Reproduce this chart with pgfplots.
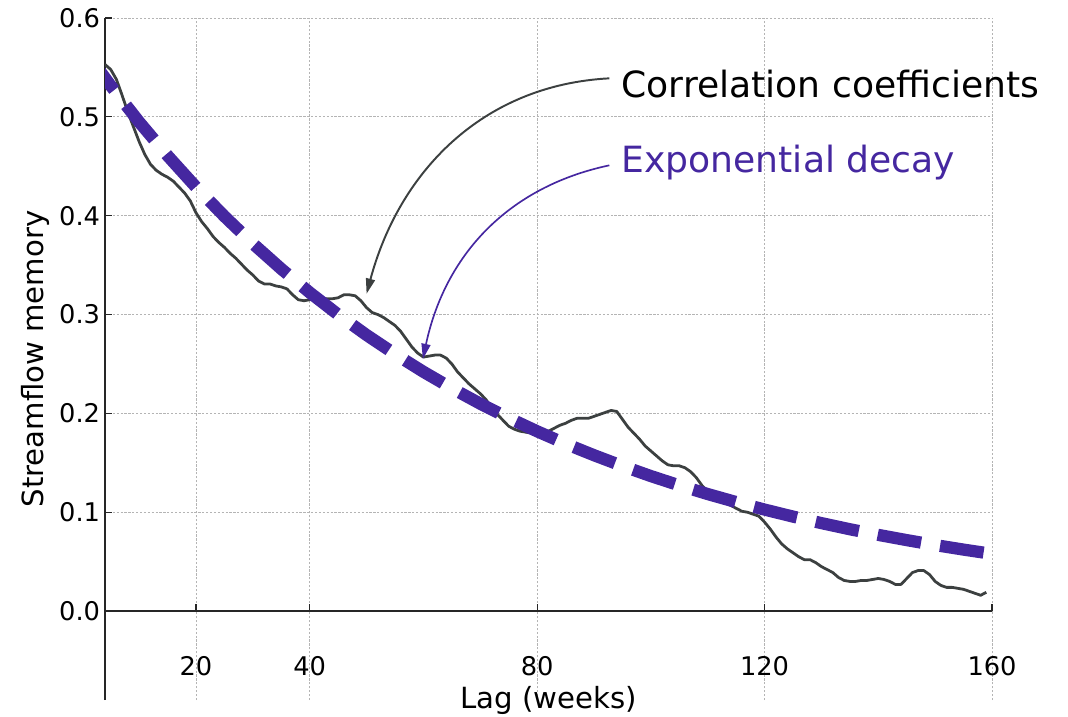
\documentclass[border=0pt]{standalone}
\usepackage{fontspec}
\setmainfont{DejaVu Sans}
\usepackage{pgfplots}
\usepackage{pgfplotstable}
\pgfplotsset{compat=1.18}
\usetikzlibrary{arrows.meta}
\definecolor{decay}{RGB}{69,39,160}
\definecolor{corr}{RGB}{60,64,64}
\definecolor{gridc}{RGB}{180,180,180}

\pgfplotstableread{
x y
4 0.553
5 0.548
6 0.538
7 0.522
8 0.505
9 0.490
10 0.475
11 0.462
12 0.452
13 0.446
14 0.442
15 0.439
16 0.435
17 0.429
18 0.423
19 0.415
20 0.403
21 0.394
22 0.387
23 0.379
24 0.373
25 0.368
26 0.362
27 0.357
28 0.351
29 0.345
30 0.340
31 0.334
32 0.331
33 0.331
34 0.329
35 0.328
36 0.326
37 0.320
38 0.315
39 0.314
40 0.315
41 0.317
42 0.317
43 0.316
44 0.316
45 0.317
46 0.320
47 0.320
48 0.319
49 0.314
50 0.307
51 0.302
52 0.300
53 0.297
54 0.293
55 0.289
56 0.283
57 0.275
58 0.267
59 0.261
60 0.257
61 0.258
62 0.259
63 0.259
64 0.256
65 0.250
66 0.242
67 0.236
68 0.230
69 0.225
70 0.220
71 0.214
72 0.206
73 0.199
74 0.193
75 0.187
76 0.184
77 0.182
78 0.181
79 0.180
80 0.180
81 0.181
82 0.182
83 0.185
84 0.188
85 0.190
86 0.193
87 0.195
88 0.195
89 0.195
90 0.197
91 0.199
92 0.201
93 0.203
94 0.202
95 0.194
96 0.186
97 0.180
98 0.174
99 0.167
100 0.162
101 0.157
102 0.152
103 0.148
104 0.147
105 0.147
106 0.145
107 0.141
108 0.135
109 0.127
110 0.121
111 0.118
112 0.114
113 0.110
114 0.107
115 0.104
116 0.101
117 0.100
118 0.098
119 0.096
120 0.090
121 0.083
122 0.075
123 0.068
124 0.063
125 0.059
126 0.055
127 0.052
128 0.052
129 0.049
130 0.045
131 0.042
132 0.039
133 0.034
134 0.031
135 0.030
136 0.030
137 0.031
138 0.031
139 0.032
140 0.033
141 0.032
142 0.030
143 0.027
144 0.027
145 0.033
146 0.039
147 0.041
148 0.041
149 0.037
150 0.030
151 0.026
152 0.024
153 0.024
154 0.023
155 0.022
156 0.020
157 0.018
158 0.016
159 0.019
}\corrdata

\pgfplotstableread{
x y
1 0.5629
5 0.5316
10 0.4949
15 0.4608
20 0.4290
25 0.3994
30 0.3718
35 0.3462
40 0.3223
45 0.3000
50 0.2793
55 0.2601
60 0.2421
65 0.2254
70 0.2098
75 0.1954
80 0.1819
85 0.1693
90 0.1577
95 0.1468
100 0.1366
105 0.1272
110 0.1184
115 0.1103
120 0.1027
125 0.0956
130 0.0890
135 0.0828
140 0.0771
145 0.0718
150 0.0668
155 0.0622
160 0.0579
}\decaydata

\begin{document}
\begin{tikzpicture}
\begin{axis}[name=ax,
  width=638.6pt, height=491pt, scale only axis,
  xmin=4, xmax=160, ymin=-0.09, ymax=0.6,
  axis x line*=middle, axis y line*=left,
  hide obscured x ticks=false, hide obscured y ticks=false,
  xtick={20,40,80,120,160}, xticklabels={20,40,80,120,160},
  ytick={0,0.1,0.2,0.3,0.4,0.5,0.6},
  yticklabels={0.0,0.1,0.2,0.3,0.4,0.5,0.6},
  tick align=inside, major tick length=5pt,
  tick style={color=black!85, line width=0.8pt},
  axis line style={color=black!85, line width=1pt},
  grid=major,
  major grid style={gridc, line width=0.6pt, dash pattern=on 1.6pt off 1.2pt},
  tick label style={font=\fontsize{18.5}{22}\selectfont},
  xticklabel style={anchor=center, yshift=-39.6pt},
  xlabel={Lag (weeks)}, ylabel={Streamflow memory},
  every axis x label/.style={at={(rel axis cs:0.5,0)}, anchor=center,
    font=\fontsize{21}{25}\selectfont},
  every axis y label/.style={at={(rel axis cs:0,0.5)}, xshift=-50.4pt, rotate=90,
    anchor=center, font=\fontsize{21}{25}\selectfont},
  clip mode=individual,
]
\addplot[corr, line width=2pt, line join=round] table[x=x,y=y] {\corrdata};
\addplot[decay, line width=8.8pt, dash pattern=on 31.7pt off 13.9pt] table[x=x,y=y] {\decaydata};

\node[anchor=base west, inner sep=0pt, text=black, font=\fontsize{26}{30}\selectfont] at (axis cs:94.8,0.520) {Correlation coefficients};
\node[anchor=base west, inner sep=0pt, text=decay, font=\fontsize{26}{30}\selectfont] at (axis cs:94.8,0.444) {Exponential decay};
\draw[corr, line width=1.4pt, -{Triangle[length=11pt,width=6.5pt]}] (axis cs:92.7,0.539) to[out=183,in=75] (axis cs:50.0,0.321);
\draw[decay, line width=1.2pt, -{Triangle[length=11pt,width=6.5pt]}] (axis cs:92.7,0.451) to[out=192,in=78] (axis cs:59.9,0.255);
\end{axis}
\pgfresetboundingbox
\useasboundingbox ([xshift=-75.6pt,yshift=-12.2pt]ax.south west) rectangle ([xshift=54.7pt,yshift=13pt]ax.north east);
\end{tikzpicture}
\end{document}
